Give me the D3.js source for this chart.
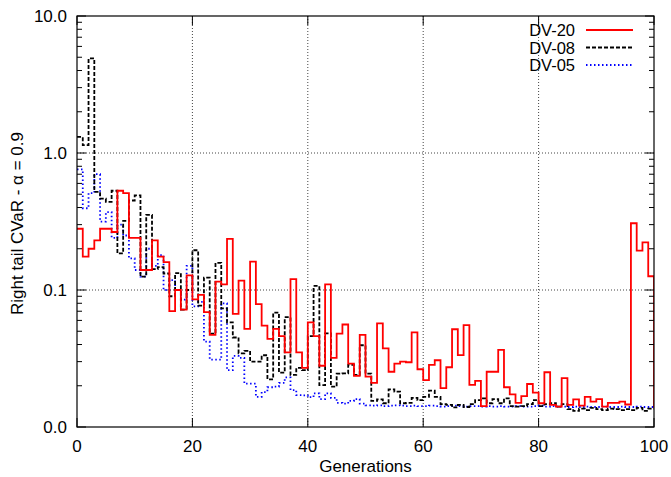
<!DOCTYPE html>
<html>
<head>
<meta charset="utf-8">
<script src="https://cdn.jsdelivr.net/npm/d3@7"></script>
<style>
body { margin: 0; background: #fff; }
svg { font-family: "Liberation Sans", Arial, sans-serif; }
</style>
</head>
<body>
<div id="chart"></div>
<script>
// values per generation (step holds from g to g+1), last entry = value at g=100
var dv20 = [0.28,0.175,0.20,0.23,0.28,0.28,0.265,0.53,0.51,0.24,
  0.24,0.14,0.14,0.23,0.175,0.16,0.07,0.10,0.072,0.128,
  0.0855,0.092,0.069,0.047,0.115,0.11,0.236,0.067,0.117,0.052,
  0.161,0.079,0.055,0.044,0.052,0.046,0.035,0.12,0.035,0.027,
  0.058,0.046,0.028,0.11,0.032,0.048,0.056,0.029,0.0236,0.047,
  0.0233,0.021,0.057,0.0375,0.0253,0.029,0.030,0.0297,0.049,0.0264,
  0.022,0.0284,0.0307,0.0192,0.0273,0.0517,0.0335,0.0555,0.0203,0.0217,
  0.0142,0.0253,0.0253,0.0365,0.0195,0.0173,0.015,0.0168,0.0206,0.0178,
  0.0149,0.0251,0.0145,0.0141,0.0227,0.0145,0.0159,0.0143,0.0166,0.0153,
  0.016,0.0141,0.015,0.015,0.0153,0.0146,0.307,0.194,0.223,0.126,
  0.0138];
var dv08 = [1.31,1.14,4.9,0.52,0.464,0.44,0.53,0.185,0.32,0.45,
  0.49,0.125,0.353,0.142,0.147,0.132,0.09,0.133,0.072,0.10,
  0.195,0.077,0.123,0.048,0.158,0.0735,0.058,0.045,0.0345,0.036,
  0.030,0.030,0.0334,0.0223,0.0684,0.0249,0.0633,0.024,0.027,0.026,
  0.046,0.107,0.0202,0.0483,0.0197,0.0245,0.0246,0.0284,0.024,0.0395,
  0.0245,0.0155,0.0159,0.0149,0.0188,0.0181,0.0149,0.015,0.0163,0.0157,
  0.0166,0.0184,0.0166,0.0147,0.0145,0.0139,0.0145,0.014,0.0147,0.0157,
  0.0162,0.0149,0.016,0.0149,0.0162,0.0142,0.0141,0.0142,0.0147,0.0157,
  0.0142,0.0147,0.0149,0.0141,0.0147,0.0135,0.0131,0.0136,0.0133,0.0138,
  0.0135,0.0133,0.0136,0.0135,0.0133,0.0135,0.0133,0.0138,0.0131,0.0136,
  0.0136];
var dv05 = [0.76,0.395,0.51,0.70,0.316,0.37,0.24,0.30,0.25,0.17,
  0.14,0.125,0.2,0.15,0.18,0.10,0.118,0.1,0.085,0.15,
  0.076,0.082,0.042,0.031,0.031,0.08,0.026,0.033,0.032,0.0207,
  0.0207,0.0166,0.018,0.0195,0.0197,0.021,0.023,0.0186,0.0171,0.017,
  0.0165,0.0176,0.016,0.0176,0.0163,0.015,0.0148,0.0155,0.016,0.0148,
  0.0144,0.0143,0.0144,0.0142,0.0143,0.0144,0.0143,0.0142,0.0143,0.0142,
  0.0142,0.0143,0.0142,0.0141,0.0142,0.0143,0.0142,0.0141,0.0142,0.0142,
  0.0141,0.0142,0.0141,0.0142,0.0141,0.0141,0.0142,0.0141,0.0141,0.0142,
  0.0143,0.0141,0.0142,0.0141,0.0141,0.0140,0.0141,0.0140,0.0141,0.0140,
  0.0140,0.0141,0.0140,0.0140,0.0141,0.0140,0.0140,0.0141,0.0140,0.0140,
  0.0140];

var xTicks = [0, 20, 40, 60, 80, 100];
var yTicks = [0.01, 0.1, 1, 10];
var yMinor = [];
[0.01, 0.1, 1].forEach(function(d) {
  for (var m = 2; m <= 9; m++) yMinor.push(d * m);
});

var series = [
  {name: "DV-20", values: dv20, color: "#ff0000", dash: null},
  {name: "DV-08", values: dv08, color: "#000000", dash: "4,2"},
  {name: "DV-05", values: dv05, color: "#0000ff", dash: "1.5,2.5"}
];

var W = 671, H = 477;
var margin = {top: 16, right: 17, bottom: 50, left: 77};
var w = W - margin.left - margin.right,
    h = H - margin.top - margin.bottom;

var svg = d3.select("#chart").append("svg")
    .attr("width", W)
    .attr("height", H);

var g = svg.append("g")
    .attr("transform", "translate(" + margin.left + "," + margin.top + ")");

var x = d3.scaleLinear().domain([0, 100]).range([0, w]);
var y = d3.scaleLog().domain([0.01, 10]).range([h, 0]);

// grid (skip edges)
g.append("g").selectAll("line")
    .data(xTicks.filter(function(d) { return d > 0 && d < 100; }))
    .enter().append("line")
    .attr("x1", function(d) { return x(d); })
    .attr("x2", function(d) { return x(d); })
    .attr("y1", 0).attr("y2", h)
    .style("stroke", "#444").style("stroke-width", 1)
    .style("stroke-dasharray", "1,2");

g.append("g").selectAll("line")
    .data(yTicks.filter(function(d) { return d > 0.01 && d < 10; }))
    .enter().append("line")
    .attr("y1", function(d) { return y(d); })
    .attr("y2", function(d) { return y(d); })
    .attr("x1", 0).attr("x2", w)
    .style("stroke", "#444").style("stroke-width", 1)
    .style("stroke-dasharray", "1,2");

// series
svg.append("defs").append("clipPath").attr("id", "clip")
  .append("rect").attr("width", w).attr("height", h);

var line = d3.line()
    .x(function(d, i) { return x(i); })
    .y(function(d) { return y(d); })
    .curve(d3.curveStepAfter);

g.append("g").attr("clip-path", "url(#clip)")
  .selectAll("path")
  .data(series.slice().reverse())
  .enter().append("path")
    .attr("d", function(d) { return line(d.values); })
    .style("fill", "none")
    .style("stroke", function(d) { return d.color; })
    .style("stroke-width", 1.8)
    .style("stroke-dasharray", function(d) { return d.dash; });

// ticks, inward on all four sides
var ticks = g.append("g").style("stroke", "#000").style("stroke-width", 1);
xTicks.forEach(function(d) {
  ticks.append("line").attr("x1", x(d)).attr("x2", x(d)).attr("y1", h).attr("y2", h - 9);
  ticks.append("line").attr("x1", x(d)).attr("x2", x(d)).attr("y1", 0).attr("y2", 9);
});
yTicks.forEach(function(d) {
  ticks.append("line").attr("x1", 0).attr("x2", 9).attr("y1", y(d)).attr("y2", y(d));
  ticks.append("line").attr("x1", w).attr("x2", w - 9).attr("y1", y(d)).attr("y2", y(d));
});
yMinor.forEach(function(d) {
  ticks.append("line").attr("x1", 0).attr("x2", 5).attr("y1", y(d)).attr("y2", y(d));
  ticks.append("line").attr("x1", w).attr("x2", w - 5).attr("y1", y(d)).attr("y2", y(d));
});

// frame
g.append("rect")
    .attr("width", w).attr("height", h)
    .style("fill", "none").style("stroke", "#000").style("stroke-width", 1.2);

// tick labels
g.append("g").selectAll("text")
    .data(xTicks).enter().append("text")
    .attr("x", function(d) { return x(d); })
    .attr("y", h + 25)
    .style("text-anchor", "middle")
    .style("font-size", "17px")
    .text(function(d) { return d; });

g.append("g").selectAll("text")
    .data(yTicks).enter().append("text")
    .attr("x", -10)
    .attr("y", function(d) { return y(d) + 6; })
    .style("text-anchor", "end")
    .style("font-size", "17px")
    .text(function(d) { return d3.format(".1f")(d); });

// axis titles
svg.append("text")
    .attr("x", margin.left + w / 2)
    .attr("y", 472)
    .style("text-anchor", "middle")
    .style("font-size", "17px")
    .text("Generations");

svg.append("text")
    .attr("transform", "translate(23," + (margin.top + h / 2 + 2) + ") rotate(-90)")
    .style("text-anchor", "middle")
    .style("font-size", "17px")
    .text("Right tail CVaR - α = 0.9");

// legend
var legend = svg.append("g").selectAll("g")
    .data(series).enter().append("g")
    .attr("transform", function(d, i) { return "translate(0," + (30 + i * 17.5) + ")"; });

legend.append("text")
    .attr("x", 575).attr("y", 6)
    .style("text-anchor", "end")
    .style("font-size", "16.5px")
    .text(function(d) { return d.name; });

legend.append("line")
    .attr("x1", 586).attr("x2", 633)
    .style("stroke", function(d) { return d.color; })
    .style("stroke-width", 1.8)
    .style("stroke-dasharray", function(d) { return d.dash; });
</script>
</body>
</html>
